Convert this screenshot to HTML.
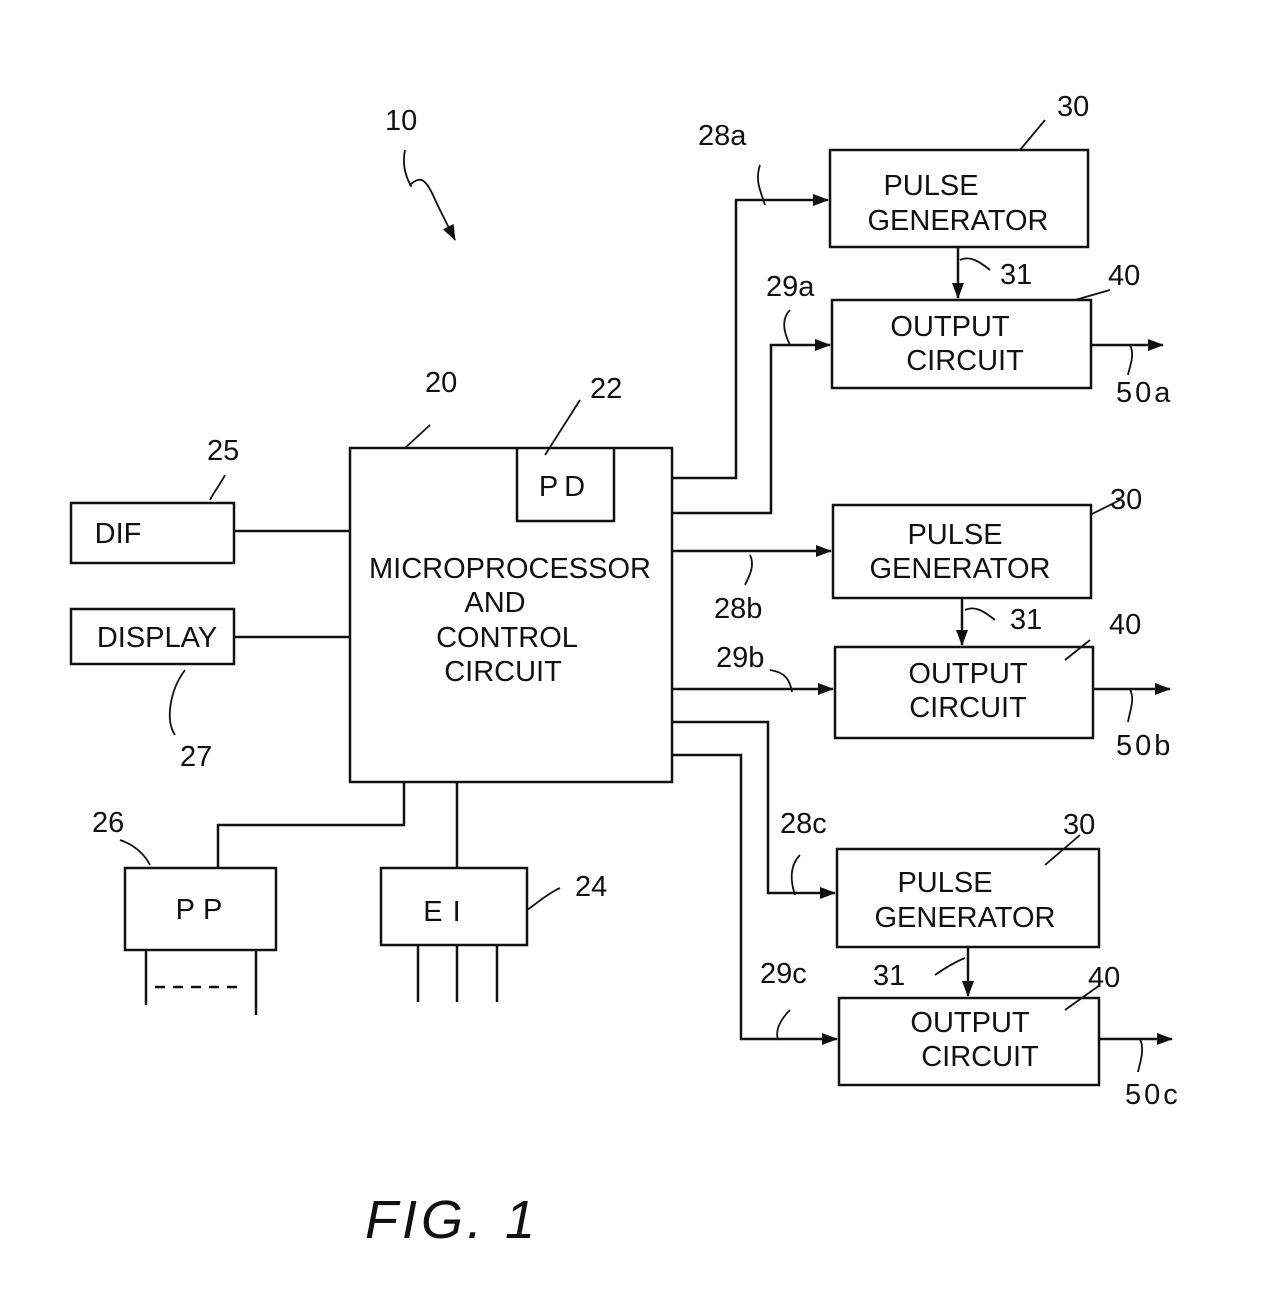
<!DOCTYPE html>
<html><head><meta charset="utf-8"><style>
html,body{margin:0;padding:0;background:#fff;}
svg{display:block;}
text{font-family:"Liberation Sans",sans-serif;fill:#111;}
</style></head><body>
<svg width="1280" height="1292" viewBox="0 0 1280 1292" xmlns="http://www.w3.org/2000/svg">
<defs>
<marker id="a" markerWidth="16" markerHeight="12" refX="15" refY="6" orient="auto" markerUnits="userSpaceOnUse">
<path d="M0,0 L16,6 L0,12 z" fill="#111"/></marker>
</defs>
<g fill="none" stroke="#111" stroke-width="2.5">
<rect x="350" y="448" width="322" height="334"/>
<path d="M517,448 V521 H614 V448"/>
<rect x="71" y="503" width="163" height="60"/>
<rect x="71" y="609" width="163" height="55"/>
<rect x="125" y="868" width="151" height="82"/>
<rect x="381" y="868" width="146" height="77"/>
<rect x="830" y="150" width="258" height="97"/>
<rect x="832" y="300" width="259" height="88"/>
<rect x="833" y="505" width="258" height="93"/>
<rect x="835" y="647" width="258" height="91"/>
<rect x="837" y="849" width="262" height="98"/>
<rect x="839" y="998" width="260" height="87"/>
<path d="M234,531 H350"/><path d="M234,637 H350"/>
<path d="M404,782 V825 H218 V868"/><path d="M457,782 V868"/>
<path d="M146,950 V1005"/><path d="M256,950 V1015"/>
<path d="M155,987 H245" stroke-dasharray="10,8"/>
<path d="M418,945 V1002"/><path d="M457,945 V1002"/><path d="M497,945 V1002"/>
<path d="M672,478 H736 V200 H828" marker-end="url(#a)"/>
<path d="M672,513 H771 V345 H830" marker-end="url(#a)"/>
<path d="M672,551 H831" marker-end="url(#a)"/>
<path d="M672,689 H833" marker-end="url(#a)"/>
<path d="M672,722 H768 V893 H835" marker-end="url(#a)"/>
<path d="M672,755 H741 V1039 H837" marker-end="url(#a)"/>
<path d="M958,247 V298" marker-end="url(#a)"/>
<path d="M962,598 V645" marker-end="url(#a)"/>
<path d="M968,947 V996" marker-end="url(#a)"/>
<path d="M1091,345 H1163" marker-end="url(#a)"/>
<path d="M1093,689 H1170" marker-end="url(#a)"/>
<path d="M1099,1039 H1172" marker-end="url(#a)"/>
<g stroke-width="1.8">
<path d="M405,150 C400,175 415,190 410,185 C425,170 430,190 440,210 L455,240" marker-end="url(#a)"/>
<path d="M430,425 L405,448"/>
<path d="M580,400 L545,455"/>
<path d="M225,475 C220,485 215,490 210,500"/>
<path d="M185,670 C170,690 165,720 175,735"/>
<path d="M120,840 C135,845 145,855 150,865"/>
<path d="M560,888 C545,895 535,905 527,910"/>
<path d="M1045,120 L1020,150"/>
<path d="M1110,290 L1075,300"/>
<path d="M1120,500 L1090,515"/>
<path d="M1090,640 L1065,660"/>
<path d="M1080,835 L1045,865"/>
<path d="M1100,985 L1065,1010"/>
<path d="M760,165 C755,180 760,190 765,205"/>
<path d="M790,310 C780,320 785,335 790,345"/>
<path d="M750,555 C755,565 750,575 745,585"/>
<path d="M770,670 C785,672 790,680 792,692"/>
<path d="M800,855 C790,865 790,880 795,895"/>
<path d="M790,1010 C780,1020 775,1030 778,1040"/>
<path d="M960,260 C970,255 980,262 990,270"/>
<path d="M965,610 C975,605 985,612 995,620"/>
<path d="M935,975 C945,968 955,962 965,958"/>
<path d="M1130,345 C1135,355 1130,365 1128,375"/>
<path d="M1130,689 C1135,700 1130,710 1128,722"/>
<path d="M1140,1039 C1145,1050 1140,1062 1138,1072"/>
</g>
</g>
<g font-size="29" text-anchor="middle">
<text x="931" y="195">PULSE</text><text x="958" y="230">GENERATOR</text>
<text x="950" y="336">OUTPUT</text><text x="965" y="370">CIRCUIT</text>
<text x="955" y="544">PULSE</text><text x="960" y="578">GENERATOR</text>
<text x="968" y="683">OUTPUT</text><text x="968" y="717">CIRCUIT</text>
<text x="945" y="892">PULSE</text><text x="965" y="927">GENERATOR</text>
<text x="970" y="1032">OUTPUT</text><text x="980" y="1066">CIRCUIT</text>
<text x="510" y="578">MICROPROCESSOR</text>
<text x="495" y="612">AND</text>
<text x="507" y="647">CONTROL</text>
<text x="503" y="681">CIRCUIT</text>
<text x="565" y="496" letter-spacing="6">PD</text>
<text x="118" y="543">DIF</text>
<text x="157" y="647">DISPLAY</text>
<text x="203" y="919" letter-spacing="8">PP</text>
<text x="447" y="921" letter-spacing="10">EI</text>
</g>
<g font-size="29">
<text x="385" y="130">10</text>
<text x="425" y="392">20</text>
<text x="590" y="398">22</text>
<text x="207" y="460">25</text>
<text x="180" y="766">27</text>
<text x="92" y="832">26</text>
<text x="575" y="896">24</text>
<text x="1057" y="116">30</text>
<text x="1108" y="285">40</text>
<text x="1110" y="509">30</text>
<text x="1109" y="634">40</text>
<text x="1063" y="834">30</text>
<text x="1088" y="987">40</text>
<text x="1000" y="284">31</text>
<text x="1010" y="629">31</text>
<text x="873" y="985">31</text>
<text x="698" y="145">28a</text>
<text x="766" y="296">29a</text>
<text x="714" y="618">28b</text>
<text x="716" y="667">29b</text>
<text x="780" y="833">28c</text>
<text x="760" y="983">29c</text>
<text x="1116" y="402" letter-spacing="3">50a</text>
<text x="1116" y="755" letter-spacing="3">50b</text>
<text x="1125" y="1104" letter-spacing="3">50c</text>
</g>
<text x="365" y="1238" font-size="54" font-style="italic" font-family="Liberation Serif,serif" letter-spacing="4">FIG. 1</text>
</svg>
</body></html>
